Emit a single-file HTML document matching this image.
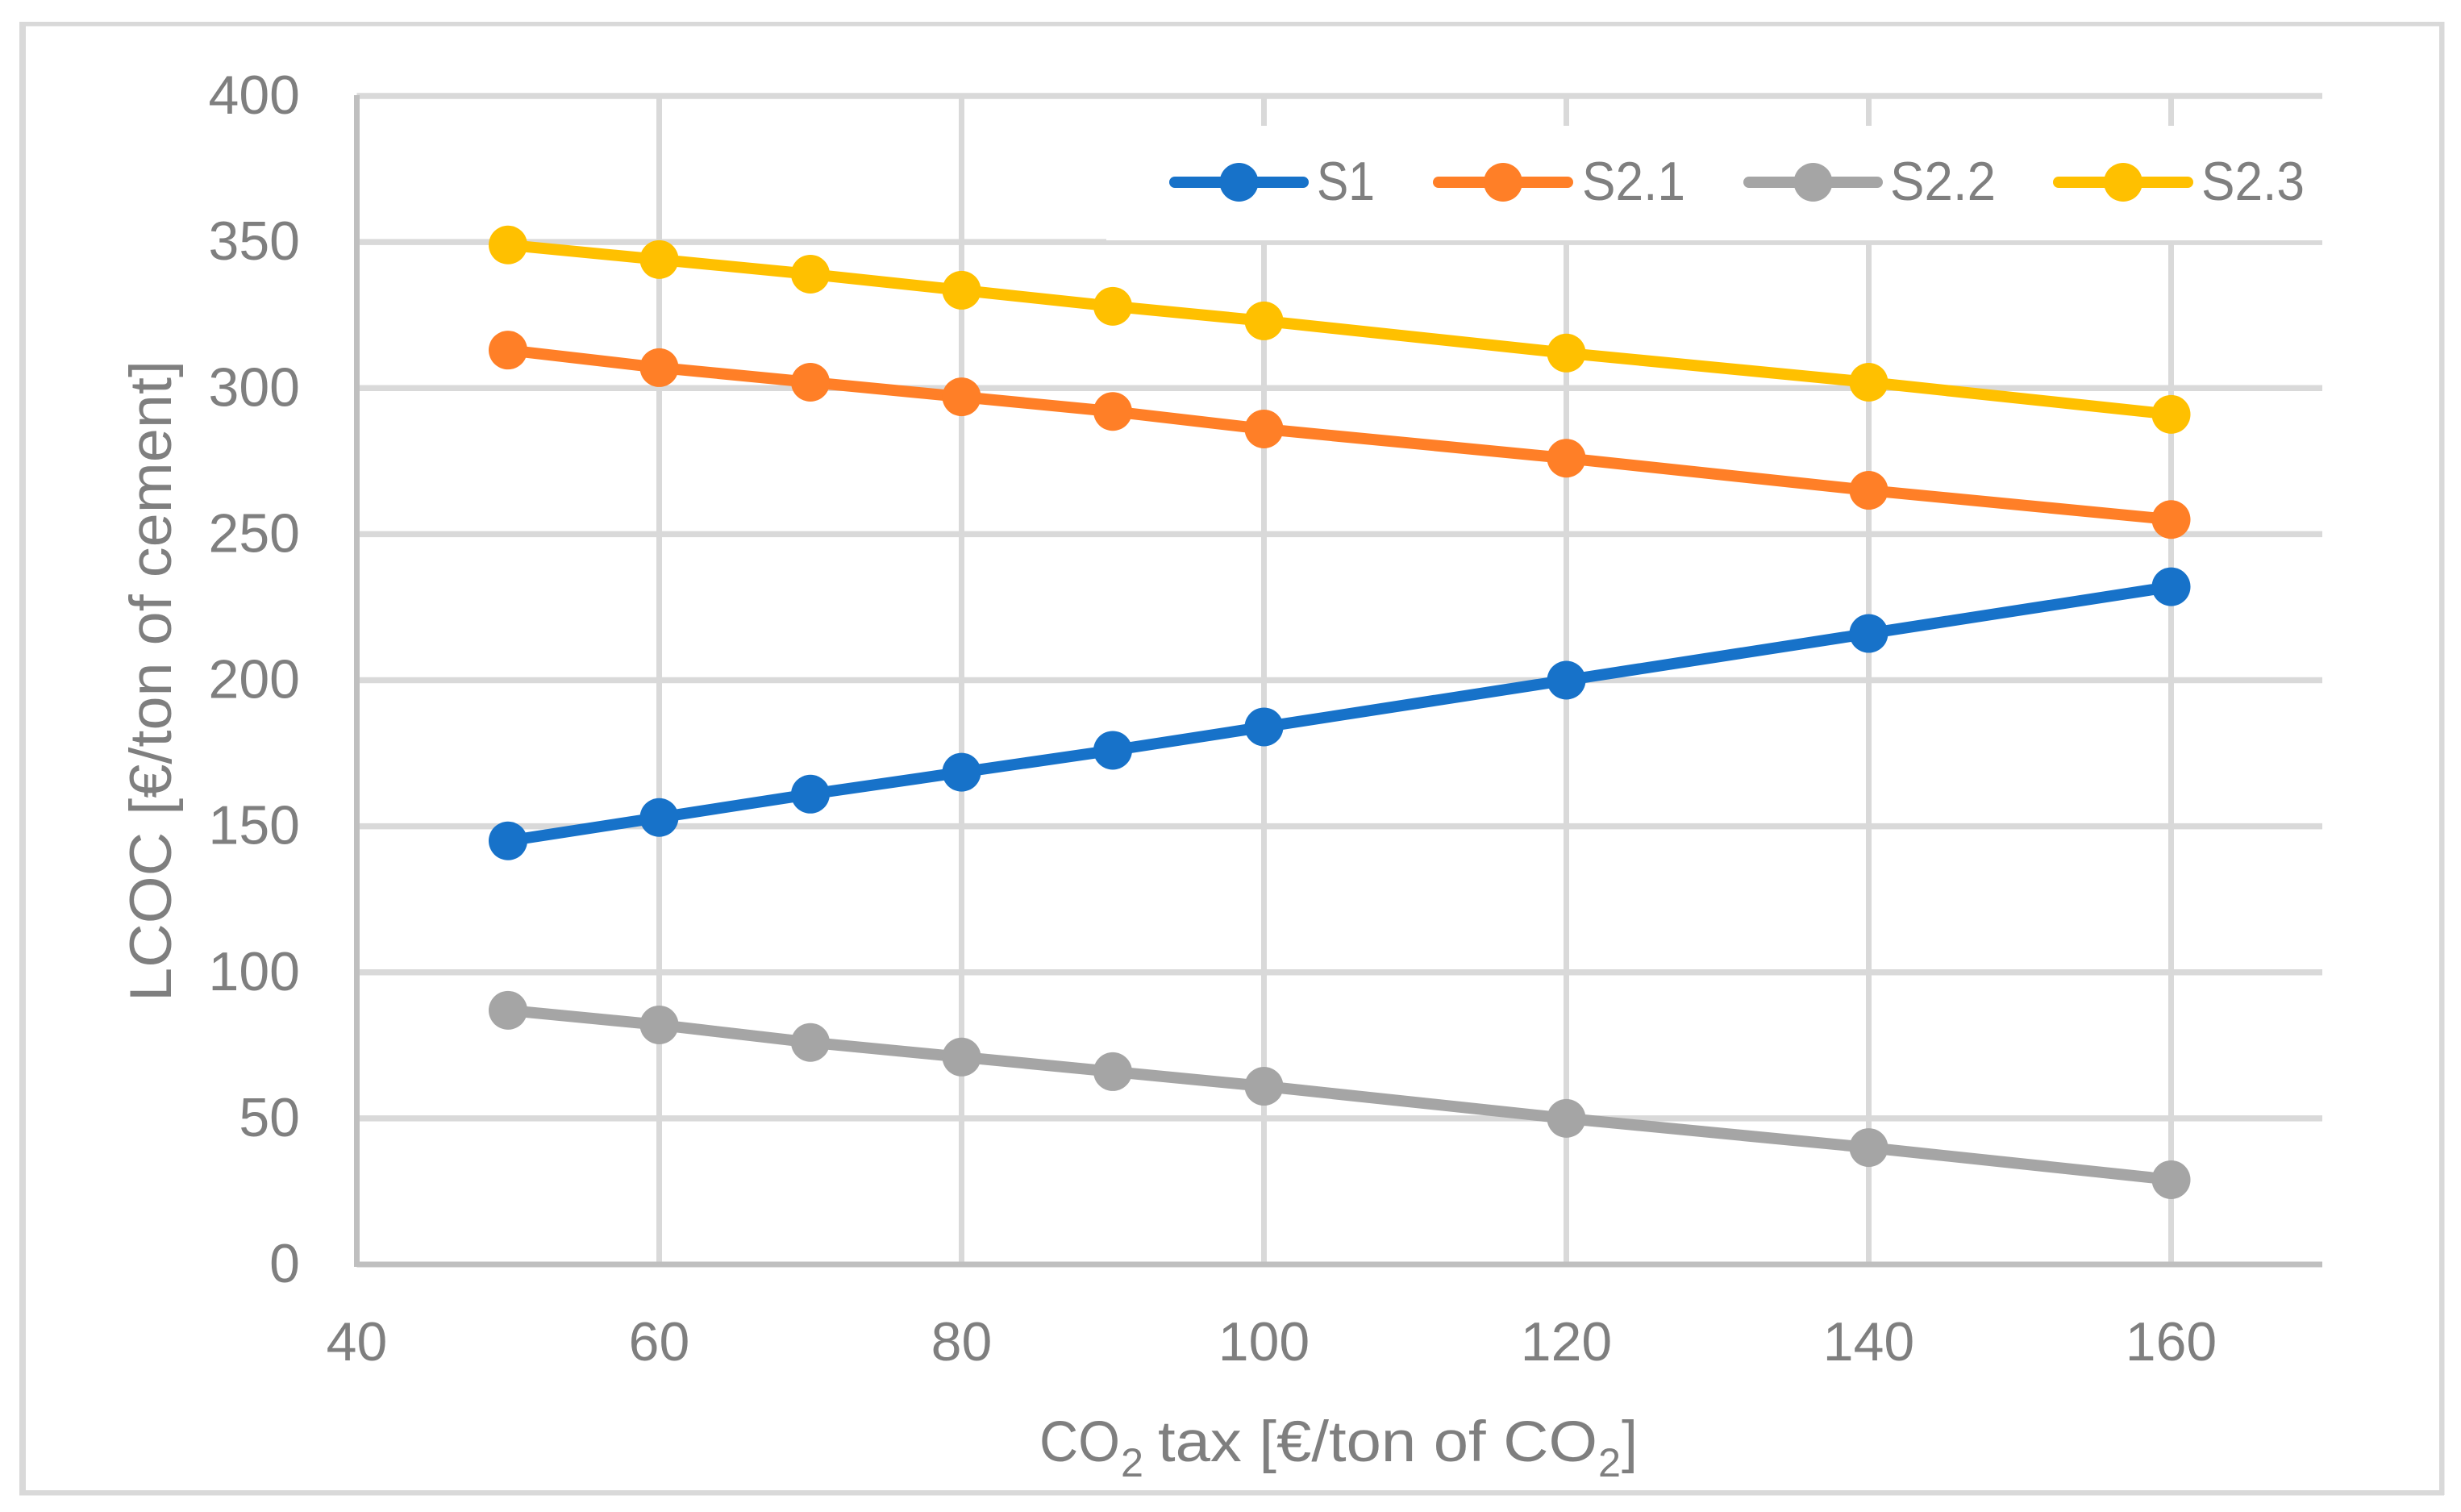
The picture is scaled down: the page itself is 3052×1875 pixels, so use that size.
<!DOCTYPE html>
<html lang="en">
<head>
<meta charset="utf-8">
<title>LCOC vs CO2 tax</title>
<style>
  html, body { margin: 0; padding: 0; background: #fff; }
  svg { display: block; }
  text { font-family: "Liberation Sans", sans-serif; fill: #7f7f7f; }
</style>
</head>
<body>
<svg id="chart" xmlns="http://www.w3.org/2000/svg" width="3052" height="1875" viewBox="0 0 3052 1875">
  <rect x="0" y="0" width="3052" height="1875" fill="#fff"/>
  <g fill="#d9d9d9">
    <rect x="24" y="27" width="8" height="1827"/>
    <rect x="24" y="27" width="3007" height="5.5"/>
    <rect x="3025" y="27" width="6.5" height="1827"/>
    <rect x="24" y="1848" width="3007" height="6.5"/>
  </g>
  <g id="grid"></g>
  <rect x="1372" y="156" width="1520" height="142" fill="#fff"/>
  <g id="axes"></g>
  <g id="series"></g>
  <g id="legend"></g>

  <g>
    <text x="1289" y="1812" font-size="71" textLength="100" lengthAdjust="spacingAndGlyphs">CO</text>
    <text x="1390" y="1831" font-size="50" textLength="28" lengthAdjust="spacingAndGlyphs">2</text>
    <text x="1436" y="1812" font-size="71" textLength="545" lengthAdjust="spacingAndGlyphs">tax [€/ton of CO</text>
    <text x="1982" y="1831" font-size="50" textLength="28" lengthAdjust="spacingAndGlyphs">2</text>
    <text x="2011" y="1812" font-size="71" textLength="20" lengthAdjust="spacingAndGlyphs">]</text>
  </g>
  <text transform="translate(212 1242) rotate(-90)" x="0" y="0" font-size="73" textLength="795" lengthAdjust="spacingAndGlyphs">LCOC [€/ton of cement]</text>
</svg>

<script>
const categories = [50, 60, 70, 80, 90, 100, 120, 140, 160];
const seriesS1 = [145, 153, 161, 168.5, 176, 184, 200, 216, 232];
const seriesS21 = [313, 307, 302, 297, 292, 286, 276, 265, 255];
const seriesS22 = [87, 82, 76, 71, 66, 61, 50, 40, 29];
const seriesS23 = [349, 344, 339, 333.5, 328, 323, 312, 302, 291];
const xTickLabels = [40, 60, 80, 100, 120, 140, 160];
const yTickLabels = [0, 50, 100, 150, 200, 250, 300, 350, 400];
const seriesNames = ['S1', 'S2.1', 'S2.2', 'S2.3'];

const NS = 'http://www.w3.org/2000/svg';
const X_MIN = 40, X_MAX = 170, Y_MIN = 0, Y_MAX = 400;
const PLOT_LEFT = 442.5, PLOT_RIGHT = 2880, PLOT_TOP = 119, PLOT_BOTTOM = 1568;

function xScale(v) {
  return PLOT_LEFT + (v - X_MIN) * (PLOT_RIGHT - PLOT_LEFT) / (X_MAX - X_MIN);
}
function yScale(v) {
  return PLOT_BOTTOM - (v - Y_MIN) * (PLOT_BOTTOM - PLOT_TOP) / (Y_MAX - Y_MIN);
}
function make(tag, parent, attrs) {
  const el = document.createElementNS(NS, tag);
  for (const k in attrs) el.setAttribute(k, attrs[k]);
  parent.appendChild(el);
  return el;
}

const gridG = document.getElementById('grid');
const axesG = document.getElementById('axes');
const seriesG = document.getElementById('series');
const legendG = document.getElementById('legend');

yTickLabels.forEach(function (t) {
  if (t !== Y_MIN) {
    const line = make('line', gridG, { x1: PLOT_LEFT, x2: PLOT_RIGHT, y1: yScale(t), y2: yScale(t), stroke: '#d9d9d9', 'stroke-width': 7.5 });
    
    
  }
  const label = make('text', axesG, { x: 372, y: yScale(t) + 22, 'font-size': 68, 'text-anchor': 'end' });
  label.textContent = t;
  
  
});

xTickLabels.forEach(function (t) {
  if (t !== X_MIN) {
    const line = make('line', gridG, { x1: xScale(t), x2: xScale(t), y1: PLOT_TOP, y2: PLOT_BOTTOM, stroke: '#d9d9d9', 'stroke-width': 7 });
    
    
  }
  const label = make('text', axesG, { x: xScale(t), y: 1687, 'font-size': 68, 'text-anchor': 'middle' });
  label.textContent = t;
  
  
});

const yAxisLine = make('line', axesG, { x1: PLOT_LEFT, x2: PLOT_LEFT, y1: PLOT_TOP - 1, y2: PLOT_BOTTOM + 3, stroke: '#bfbfbf', 'stroke-width': 7 });



const xAxisLine = make('line', axesG, { x1: PLOT_LEFT, x2: PLOT_RIGHT, y1: PLOT_BOTTOM, y2: PLOT_BOTTOM, stroke: '#bfbfbf', 'stroke-width': 7 });



function drawSeries(name, values, color) {
  const g = make('g', seriesG, {});
  
  
  const pts = values.map(function (v, i) { return xScale(categories[i]) + ',' + yScale(v); }).join(' ');
  const line = make('polyline', g, { points: pts, fill: 'none', stroke: color, 'stroke-width': 14, 'stroke-linejoin': 'round' });
  
  
  values.forEach(function (v, i) {
    const dot = make('circle', g, { cx: xScale(categories[i]), cy: yScale(v), r: 24, fill: color });
    
    
  });
}
drawSeries(seriesNames[0], seriesS1, '#1772c9');
drawSeries(seriesNames[1], seriesS21, '#ff7f27');
drawSeries(seriesNames[2], seriesS22, '#a5a5a5');
drawSeries(seriesNames[3], seriesS23, '#ffc000');

function drawLegendEntry(name, color, startX, endX, textX, textLen) {
  const g = make('g', legendG, {});
  
  
  const swatch = make('line', g, { x1: startX + 7, x2: endX - 7, y1: 226, y2: 226, stroke: color, 'stroke-width': 14, 'stroke-linecap': 'round' });
  
  
  const dot = make('circle', g, { cx: (startX + endX) / 2, cy: 226, r: 24, fill: color });
  
  
  const label = make('text', g, { x: textX, y: 248, 'font-size': 68, textLength: textLen, lengthAdjust: 'spacingAndGlyphs' });
  label.textContent = name;
  
  
}
drawLegendEntry(seriesNames[0], '#1772c9', 1450, 1623, 1633, 72);
drawLegendEntry(seriesNames[1], '#ff7f27', 1777, 1951, 1962, 128);
drawLegendEntry(seriesNames[2], '#a5a5a5', 2162, 2335, 2344, 131);
drawLegendEntry(seriesNames[3], '#ffc000', 2546, 2720, 2730, 128);
</script>
</body>
</html>
